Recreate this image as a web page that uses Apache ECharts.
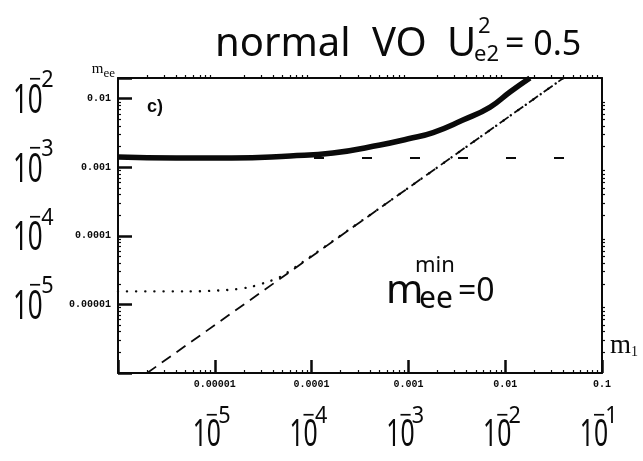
<!DOCTYPE html>
<html><head><meta charset="utf-8">
<script src="https://cdn.jsdelivr.net/npm/echarts@6/dist/echarts.min.js"></script>
<style>html,body{margin:0;padding:0;background:#fff}#c{width:643px;height:461px}</style>
</head><body><div id="c"></div>
<script>
// ---- data ----
const xTickValues = [1e-5, 1e-4, 1e-3, 1e-2, 1e-1];
const xTickLabels = ['0.00001', '0.0001', '0.001', '0.01', '0.1'];
const xHandExp = ['\u22125', '\u22124', '\u22123', '\u22122', '\u22121'];
const yTickValues = [1e-2, 1e-3, 1e-4, 1e-5];
const yTickLabels = ['0.01', '0.001', '0.0001', '0.00001'];
const yHandExp = ['\u22122', '\u22123', '\u22124', '\u22125'];

// thick solid curve (upper m_ee)
const m1Upper = [1e-6, 4e-6, 1.5e-5, 6e-5, 1.66e-4, 5.1e-4, 1e-3, 1.8e-3, 3.66e-3, 7e-3, 1.12e-2, 1.8e-2];
const meeUpper = [1.41e-3, 1.36e-3, 1.36e-3, 1.46e-3, 1.61e-3, 2.11e-3, 2.6e-3, 3.2e-3, 4.87e-3, 7.55e-3, 1.25e-2, 2.0e-2];
// dotted curve (lower m_ee)
const m1Lower = [1e-6, 5e-6, 1.34e-5, 2.31e-5, 3.46e-5, 4.72e-5, 7e-5, 1e-4, 1e-3, 1e-2, 4e-2];
const meeLower = [1.55e-5, 1.55e-5, 1.62e-5, 1.79e-5, 2.12e-5, 2.51e-5, 3.6e-5, 5.1e-5, 5e-4, 5e-3, 2e-2];
// horizontal dashed line
const m1Flat = [1e-6, 1e-1];
const meeFlat = [1.36e-3, 1.36e-3];
// diagonal dashed line
const m1Diag = [2e-6, 4e-2];
const meeDiag = [1e-6, 2e-2];

const xRange = [1e-6, 0.1];
const yRange = [1e-6, 0.02];

function pairs(xs, ys) { return xs.map((x, i) => [x, ys[i]]); }
function fmt(vals, labels) {
  return function (v) {
    for (let i = 0; i < vals.length; i++) {
      if (Math.abs(Math.log10(v) - Math.log10(vals[i])) < 1e-6) return labels[i];
    }
    return '';
  };
}

const BLACK = '#0a0a0a';
const tickFont = { fontFamily: 'Liberation Mono', fontWeight: 'bold', fontSize: 10, color: BLACK };
const HAND = 'Noto Sans';

const chart = echarts.init(document.getElementById('c'), null, { renderer: 'canvas' });

const option = {
  backgroundColor: '#fff',
  animation: false,
  grid: { left: 118, right: 41, top: 78, bottom: 88, containLabel: false, outerBoundsMode: 'none' },
  xAxis: [{
    type: 'log', logBase: 10, min: xRange[0], max: xRange[1], position: 'bottom',
    axisLine: { lineStyle: { color: BLACK, width: 2 } },
    axisTick: { inside: true, length: 13, lineStyle: { color: BLACK, width: 2.5 } },
    minorTick: { show: true, splitNumber: 9, length: 3, lineStyle: { color: BLACK, width: 1.2 } },
    axisLabel: Object.assign({ formatter: fmt(xTickValues, xTickLabels), margin: 6 }, tickFont),
    splitLine: { show: false }, minorSplitLine: { show: false },
    name: '{m|m}{s|1}', nameLocation: 'end', nameGap: 8,
    nameTextStyle: {
      align: 'left', verticalAlign: 'bottom', padding: [0, 0, 14, 0],
      rich: {
        m: { fontFamily: 'Liberation Serif', fontSize: 27, color: BLACK, verticalAlign: 'bottom', lineHeight: 28 },
        s: { fontFamily: 'Liberation Serif', fontSize: 14, color: BLACK, verticalAlign: 'bottom', lineHeight: 22 }
      }
    }
  }, {
    type: 'log', logBase: 10, min: xRange[0], max: xRange[1], position: 'top',
    axisLine: { lineStyle: { color: BLACK, width: 2 } },
    axisTick: { show: false },
    minorTick: { show: true, splitNumber: 9, length: 3, lineStyle: { color: BLACK, width: 1.2 } },
    axisLabel: { show: false }, splitLine: { show: false }
  }],
  yAxis: [{
    type: 'log', logBase: 10, min: yRange[0], max: yRange[1], position: 'left',
    axisLine: { lineStyle: { color: BLACK, width: 2 } },
    axisTick: { inside: true, length: 14, lineStyle: { color: BLACK, width: 2.5 } },
    minorTick: { show: true, splitNumber: 9, length: 3, lineStyle: { color: BLACK, width: 1.2 } },
    axisLabel: Object.assign({ formatter: fmt(yTickValues, yTickLabels), margin: 7 }, tickFont),
    splitLine: { show: false }, minorSplitLine: { show: false },
    name: '{m|m}{s|ee}', nameLocation: 'end', nameGap: 0,
    nameTextStyle: {
      align: 'right', verticalAlign: 'bottom', padding: [0, 3, -2, 0],
      rich: {
        m: { fontFamily: 'Liberation Serif', fontSize: 15, color: BLACK, verticalAlign: 'top', lineHeight: 18 },
        s: { fontFamily: 'Liberation Serif', fontSize: 13, color: BLACK, verticalAlign: 'bottom', lineHeight: 18 }
      }
    }
  }, {
    type: 'log', logBase: 10, min: yRange[0], max: yRange[1], position: 'right',
    axisLine: { lineStyle: { color: BLACK, width: 2 } },
    axisTick: { show: false },
    minorTick: { show: true, splitNumber: 9, length: 3, lineStyle: { color: BLACK, width: 1.2 } },
    axisLabel: { show: false }, splitLine: { show: false }
  }],
  series: [
    { name: 'flat', type: 'line', data: pairs(m1Flat, meeFlat), showSymbol: false, clip: true,
      lineStyle: { color: BLACK, width: 2, type: [10, 38], dashOffset: 44 }, z: 2 },
    { name: 'diag', type: 'line', data: pairs(m1Diag, meeDiag), showSymbol: false, clip: true,
      lineStyle: { color: BLACK, width: 1.8, type: [11, 7] }, z: 2 },
    { name: 'lower', type: 'line', data: pairs(m1Lower, meeLower), showSymbol: false, clip: true, smooth: 0.3,
      lineStyle: { color: BLACK, width: 2.4, type: [0.1, 9], cap: 'round' }, z: 3 },
    { name: 'upper', type: 'line', data: pairs(m1Upper, meeUpper), showSymbol: false, clip: true, smooth: 0.5,
      lineStyle: { color: BLACK, width: 5.5 }, z: 4 }
  ]
};
chart.setOption(option);

// ---- annotations (handwritten) ----
function txt(x, y, text, size, opts) {
  opts = opts || {};
  return {
    type: 'text', x: x, y: y, scaleX: opts.sx || 1, scaleY: opts.sy || 1, z: 10,
    style: {
      text: text, fontFamily: opts.family || HAND, fontSize: size, fontWeight: opts.weight || 'normal',
      fill: BLACK, align: opts.align || 'left', verticalAlign: opts.valign || 'middle'
    }
  };
}
const g = [];
yTickValues.forEach((v, i) => {
  const py = chart.convertToPixel({ yAxisIndex: 0 }, v);
  g.push(txt(13, py + 3, '10', 40, { sx: 0.65 }));
  g.push(txt(29, py - 18, yHandExp[i], 24, { sx: 0.9 }));
});
const axisY = chart.convertToPixel({ yAxisIndex: 0 }, yRange[0]);
xTickValues.forEach((v, i) => {
  const px = chart.convertToPixel({ xAxisIndex: 0 }, v);
  g.push(txt(px - 8, axisY + 62, '10', 38, { sx: 0.65, align: 'center' }));
  g.push(txt(px - 9, axisY + 43, xHandExp[i], 24, { sx: 0.9 }));
});
// title
g.push(txt(215, 45, 'normal', 40));
g.push(txt(372, 45, 'VO', 40));
g.push(txt(447, 45, 'U', 40));
g.push(txt(474, 55, 'e2', 22));
g.push(txt(478, 27, '2', 22));
g.push(txt(505, 45, '= 0.5', 34));
// panel label
g.push(txt(147, 107, 'c)', 18, { family: 'Liberation Sans', weight: 'bold' }));
// m_ee^min = 0
g.push(txt(386, 292, 'm', 40));
g.push(txt(419, 299, 'ee', 30));
g.push(txt(415, 266, 'min', 22));
g.push(txt(458, 292, '=0', 32));
chart.setOption({ graphic: g });
</script>
</body></html>
